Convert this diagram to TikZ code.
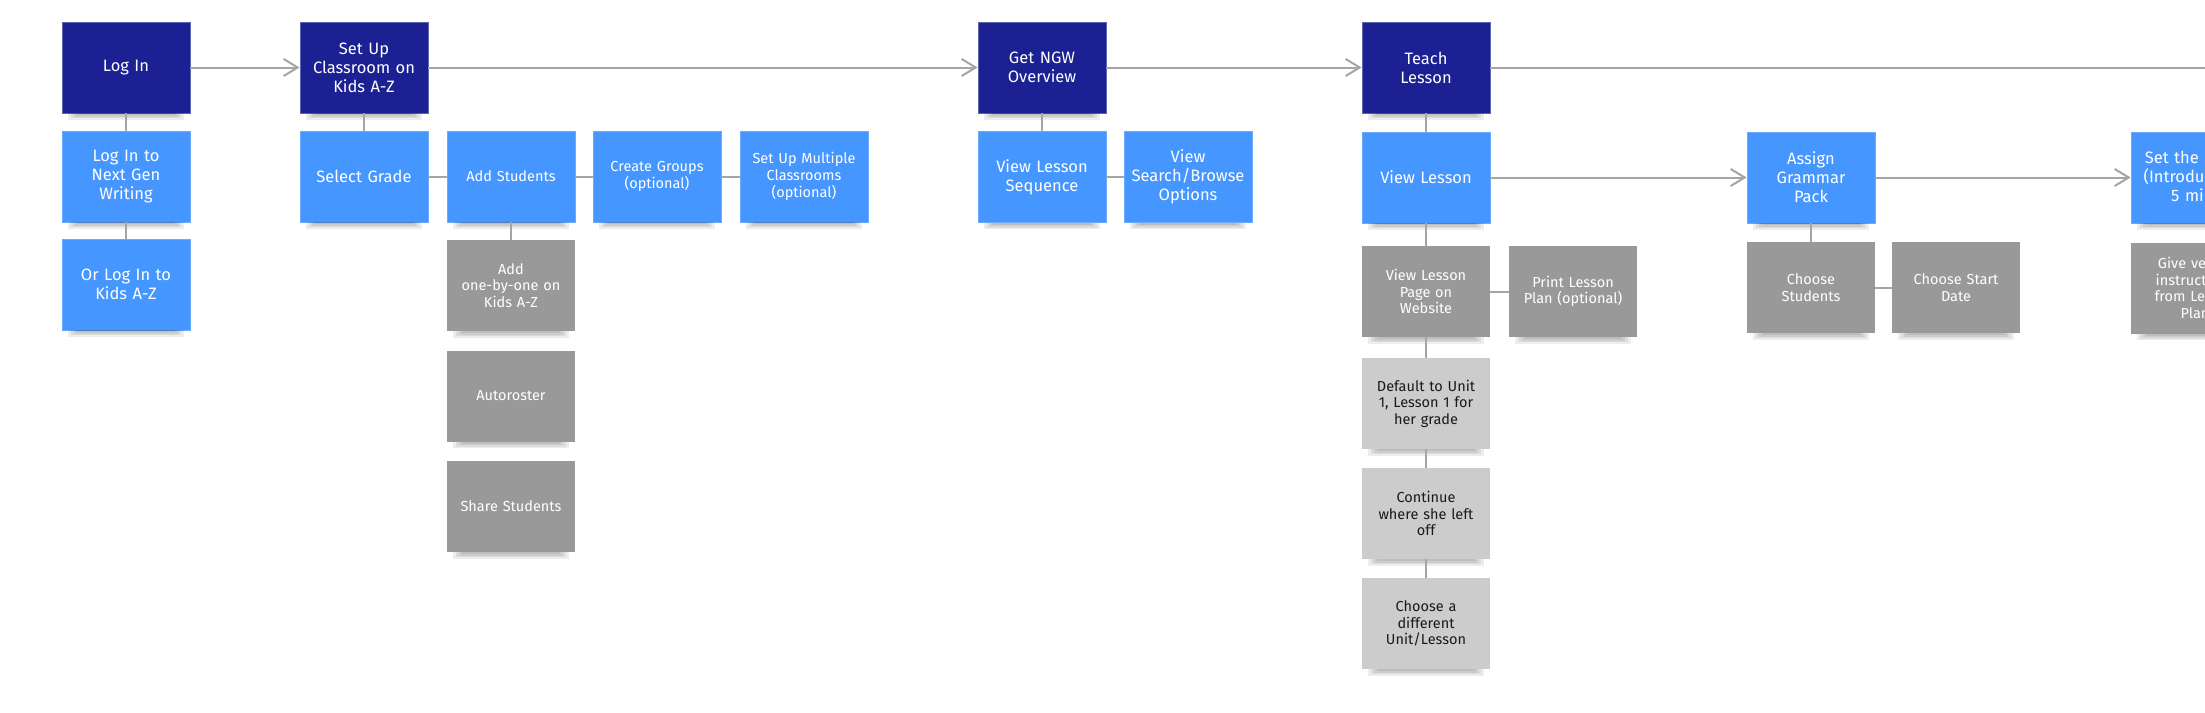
\documentclass[tikz,border=0pt]{standalone}
\usepackage{fontspec}
\setmainfont{Fira Sans}
\usetikzlibrary{arrows.meta,calc}
\definecolor{navy}{RGB}{27,33,146}
\definecolor{bblue}{RGB}{69,150,255}
\definecolor{mgray}{RGB}{153,153,153}
\definecolor{lgray}{RGB}{204,204,204}
\definecolor{connc}{RGB}{165,165,165}
\tikzset{
 box/.style={rectangle, minimum width=128pt, minimum height=91pt, inner sep=0pt, align=center, text width=124pt},
 navybox/.style={box, fill=navy, draw=navy!70!white, line width=0.8pt, text=white, font=\fontsize{16.5}{19}\selectfont},
 bluebox/.style={box, fill=bblue, draw=bblue!80!white, line width=0.8pt, text=white, font=\fontsize{16.5}{19}\selectfont},
 bluesmall/.style={bluebox, font=\fontsize{14.5}{17}\selectfont},
 graybox/.style={box, fill=mgray, text=white, font=\fontsize{14.5}{16.5}\selectfont},
 lgraybox/.style={box, fill=lgray, text=black!90, font=\fontsize{14.5}{16.5}\selectfont},
 link/.style={draw=connc, line width=2pt},
 flow/.style={link, -{Straight Barb[length=14pt, width=17pt]}},
}
\begin{document}
\begin{tikzpicture}[x=1pt, y=-1pt]
\useasboundingbox (0,0) rectangle (2205,712);
\clip (0,0) rectangle (2205,712);
\fill[white] (0,0) rectangle (2205,712);

% top row
\node[navybox] (login) at (126,67.5) {Log In};
\node[navybox] (setup) at (364,67.5) {Set Up\\Classroom on\\Kids A-Z};
\node[navybox] (ngw) at (1042,67.5) {Get NGW\\Overview};
\node[navybox] (teach) at (1426,67.5) {Teach\\Lesson};

% log in column
\node[bluebox] (logng) at (126,176.5) {Log In to\\Next Gen\\Writing};
\node[bluebox] (orlog) at (126,284.5) {Or Log In to\\Kids A-Z};

% set up column
\node[bluebox] (selgrade) at (364,176.5) {Select Grade};
\node[bluesmall] (addst) at (511,176.5) {Add Students};
\node[bluesmall] (groups) at (657,176.5) {Create Groups\\(optional)};
\node[bluesmall] (multi) at (804,176.5) {Set Up Multiple\\Classrooms\\(optional)};
\node[graybox] (onebyone) at (511,285.5) {Add\\one-by-one on\\Kids A-Z};
\node[graybox] (autoroster) at (511,396) {Autoroster};
\node[graybox] (share) at (511,506.5) {Share Students};

% overview column
\node[bluebox] (vls) at (1042,177) {View Lesson\\Sequence};
\node[bluebox] (vsb) at (1188,177) {View\\Search/Browse\\Options};

% teach column
\node[bluebox] (viewlesson) at (1426,177.5) {View Lesson};
\node[graybox] (vlp) at (1426,291.5) {View Lesson\\Page on\\Website};
\node[graybox] (print) at (1573,291.5) {Print Lesson\\Plan (optional)};
\node[lgraybox] (default) at (1426,403.5) {Default to Unit\\1, Lesson 1 for\\her grade};
\node[lgraybox] (continue) at (1426,513.5) {Continue\\where she left\\off};
\node[lgraybox] (choosediff) at (1426,623.5) {Choose a\\different\\Unit/Lesson};

% assign column
\node[bluebox] (assign) at (1811,177.5) {Assign\\Grammar\\Pack};
\node[graybox] (choosest) at (1811,287.5) {Choose\\Students};
\node[graybox] (startdate) at (1956,287.5) {Choose Start\\Date};

% stage column
\node[bluebox] (stage) at (2195,177.5) {Set the Stage\\(Introduction,\\5 min)};
\node[graybox] (give) at (2195,288) {Give verbal\\instructions\\from Lesson\\Plan};

\coordinate (edge) at (2215,67.5);

% shadows
\foreach \n in {login,setup,ngw,teach,logng,orlog,selgrade,addst,groups,multi,onebyone,autoroster,share,vls,vsb,viewlesson,vlp,print,default,continue,choosediff,assign,choosest,startdate,stage,give}{
  \foreach \k in {1,...,4}{
    \fill[black, opacity=0.07] ($(\n.south west)+(3*\k+3,0)$) rectangle ($(\n.south east)+(-3*\k-3,8-1.5*\k)$);
  }
}

% connectors
\draw[link] (login) -- (logng);
\draw[link] (logng) -- (orlog);
\draw[link] (setup) -- (selgrade);
\draw[link] (selgrade) -- (addst);
\draw[link] (addst) -- (groups);
\draw[link] (groups) -- (multi);
\draw[link] (addst) -- (onebyone);
\draw[link] (ngw) -- (vls);
\draw[link] (vls) -- (vsb);
\draw[link] (teach) -- (viewlesson);
\draw[link] (viewlesson) -- (vlp);
\draw[link] (vlp) -- (print);
\draw[link] (vlp) -- (default);
\draw[link] (default) -- (continue);
\draw[link] (continue) -- (choosediff);
\draw[link] (assign) -- (choosest);
\draw[link] (choosest) -- (startdate);
\draw[link] (teach) -- (edge);

% flow arrows
\draw[flow] (login) -- (setup);
\draw[flow] (setup) -- (ngw);
\draw[flow] (ngw) -- (teach);
\draw[flow] (viewlesson) -- (assign);
\draw[flow] (assign) -- (stage);
\end{tikzpicture}
\end{document}
